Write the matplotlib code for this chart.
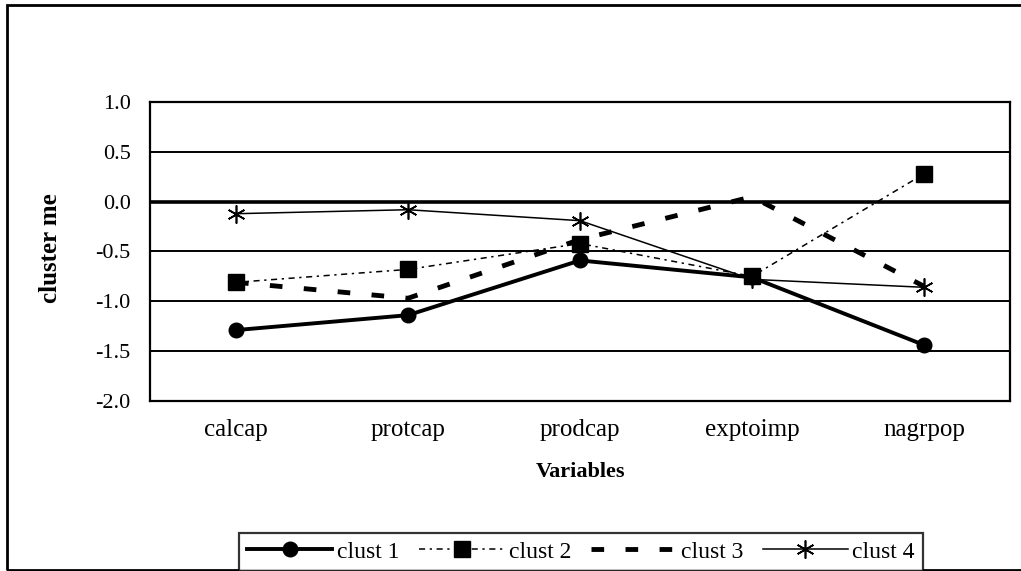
import matplotlib
matplotlib.use("Agg")
import matplotlib.pyplot as plt
from matplotlib.patches import Rectangle

variables = ["calcap", "protcap", "prodcap", "exptoimp", "nagrpop"]
clust1 = [-1.29, -1.14, -0.59, -0.76, -1.44]
clust2 = [-0.81, -0.68, -0.42, -0.75, 0.28]
clust3 = [-0.81, -0.97, -0.38, 0.05, -0.85]
clust4 = [-0.12, -0.08, -0.19, -0.78, -0.86]
yticks = [-2.0, -1.5, -1.0, -0.5, 0.0, 0.5, 1.0]

plt.rcParams['font.family'] = ['Liberation Serif', 'DejaVu Serif']

W, H = 1021, 571
fig = plt.figure(figsize=(W/100, H/100), dpi=100)
ax = fig.add_axes([150/W, 1 - 400.7/H, 860/W, 298.4/H])

# outer chart frame (right side runs off the image)
fig.patches.append(Rectangle((7/W, 1/H), 1.2, 565/H, transform=fig.transFigure,
                             fill=False, lw=2, ec='black', zorder=0))

x = list(range(len(variables)))
for yv in yticks:
    ax.axhline(yv, color='black', lw=1.4, zorder=1)
ax.axhline(0, color='black', lw=2.6, zorder=1)

ax.plot(x, clust1, color='black', lw=2.8, marker='o', ms=10.5, label='clust 1', zorder=3)
ax.plot(x, clust2, color='black', lw=1.1, ls=(0, (4, 3, 1.5, 3)), marker='s', ms=12,
        label='clust 2', zorder=3)
ax.plot(x, clust3, color='black', lw=3.5, ls=(0, (2.6, 4.4)), label='clust 3', zorder=3)
ax.plot(x, clust4, color='black', lw=1.1, marker=(6, 2, 0), ms=13, mew=1.2,
        label='clust 4', zorder=3)

ax.set_xlim(-0.5, 4.5)
ax.set_ylim(-2.0, 1.0)
ax.set_yticks(yticks)
ax.set_yticklabels(["%.1f" % v for v in yticks])
ax.set_xticks(x)
ax.set_xticklabels(variables)
ax.tick_params(length=0)
ax.tick_params(axis='x', labelsize=18, pad=13)
ax.tick_params(axis='y', labelsize=16, pad=14)
for s in ax.spines.values():
    s.set_linewidth(1.6)

ax.set_xlabel("Variables", fontsize=16, fontweight='bold', labelpad=15)
ax.set_ylabel("cluster me", fontsize=18, fontweight='bold')
ax.yaxis.set_label_coords((62 - 150)/860, 1 - (248 - 102.3)/298.4)

leg = fig.legend(loc='lower left', bbox_to_anchor=(239/W, 0.0, 684/W, 38/H),
                 ncol=4, mode='expand', fontsize=17, handlelength=3.6,
                 handletextpad=0.2, columnspacing=0.5, frameon=True, fancybox=False,
                 borderpad=0.35, borderaxespad=0)
leg.get_frame().set_edgecolor('black')
leg.get_frame().set_linewidth(1.6)

fig.savefig("out.png", dpi=100)
